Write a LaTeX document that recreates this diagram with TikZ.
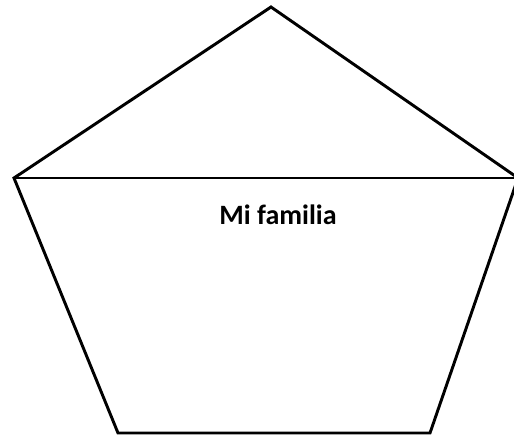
\documentclass[tikz,border=0pt]{standalone}
\usepackage{fontspec}
\setmainfont{Carlito}
\usepackage{tikz}
\usetikzlibrary{calc}

\begin{document}
\begin{tikzpicture}[
  x=0.75pt,y=-0.75pt,
  side/.style={draw,line width=2.2pt,line join=miter},
  title/.style={font=\bfseries\fontsize{21}{25}\selectfont}
]
\useasboundingbox (0,0) rectangle (514,436);
\clip (0,0) rectangle (514,436);
\coordinate (top) at (271,7);
\coordinate (l) at (14,178);
\coordinate (r) at (518,178);
\coordinate (bl) at (118,433);
\coordinate (br) at (430,433);
\draw[side] (top)--(r)--(br)--(bl)--(l)--cycle;
\draw[side] (l)--(r);
\node[title] (t) at (278,215) {Mi familia};
\end{tikzpicture}
\end{document}
